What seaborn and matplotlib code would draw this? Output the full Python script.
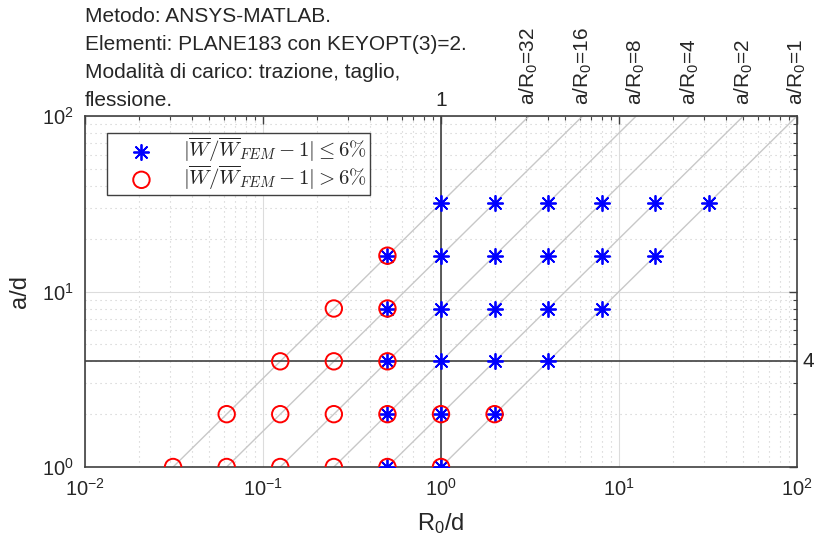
import numpy as np
import pandas as pd
import matplotlib
matplotlib.use("Agg")
import matplotlib.pyplot as plt
import seaborn as sns
from matplotlib.font_manager import FontProperties
from matplotlib.ticker import LogLocator, FixedLocator, NullFormatter

sns.set_style("white")
plt.rcParams['font.family'] = ['Liberation Sans', 'DejaVu Sans']
plt.rcParams['mathtext.fontset'] = 'custom'
plt.rcParams['mathtext.rm'] = 'Liberation Sans'
plt.rcParams['mathtext.it'] = 'Liberation Sans:italic'
plt.rcParams['mathtext.bf'] = 'Liberation Sans:bold'

# ---- data ----
ok_x = [0.5, 1, 0.5, 1, 2, 0.5, 1, 2, 4, 0.5, 1, 2, 4, 8,
        0.5, 1, 2, 4, 8, 16, 1, 2, 4, 8, 16, 32]
ok_y = [1, 1, 2, 2, 2, 4, 4, 4, 4, 8, 8, 8, 8, 8,
        16, 16, 16, 16, 16, 16, 32, 32, 32, 32, 32, 32]
ko_x = [1/32, 1/16, 1/8, 1/4, 1/2, 1,
        1/16, 1/8, 1/4, 1/2, 1, 2,
        1/8, 1/4, 1/2,
        1/4, 1/2,
        1/2]
ko_y = [1, 1, 1, 1, 1, 1,
        2, 2, 2, 2, 2, 2,
        4, 4, 4,
        8, 8,
        16]
ratios = [32, 16, 8, 4, 2, 1]
ratio_labels = ["a/R$_\\mathregular{0}$=32", "a/R$_\\mathregular{0}$=16",
                "a/R$_\\mathregular{0}$=8", "a/R$_\\mathregular{0}$=4",
                "a/R$_\\mathregular{0}$=2", "a/R$_\\mathregular{0}$=1"]
x_ref = 1
y_ref = 4
title_lines = ["Metodo: ANSYS-MATLAB.",
               "Elementi: PLANE183 con KEYOPT(3)=2.",
               "Modalità di carico: trazione, taglio,",
               "flessione."]
xlim = (1e-2, 1e2)
ylim = (1e0, 1e2)

ok_df = pd.DataFrame({"x": ok_x, "y": ok_y})
ko_df = pd.DataFrame({"x": ko_x, "y": ko_y})

fig = plt.figure(figsize=(8.14, 5.52), dpi=100)
ax = fig.add_axes([85/814, 1-467/552, 712/814, 351/552])
ax.set_xscale('log')
ax.set_yscale('log')
ax.set_xlim(*xlim)
ax.set_ylim(*ylim)

# grid
ax.grid(True, which='major', color='#dcdcdc', lw=0.8, ls='-', zorder=0)
ax.grid(True, which='minor', color='#cccccc', lw=0.8, ls=(0, (1, 3.5)), zorder=0)
ax.set_axisbelow(True)

# diagonal lines
for k in ratios:
    xs = np.array([1.0/k, 100.0/k])
    sns.lineplot(x=xs, y=k*xs, ax=ax, color='#c8c8c8', lw=1.0, zorder=1,
                 estimator=None, sort=False)

ax.axvline(x_ref, color='#404040', lw=1.2, zorder=2)
ax.axhline(y_ref, color='#404040', lw=1.2, zorder=2)

sns.scatterplot(data=ok_df, x="x", y="y", ax=ax, marker=(8, 2, 0), s=120,
                color='blue', linewidth=1.3, zorder=3,
                label=r'$|\overline{W}/\overline{W}_{FEM}-1| \leq 6\%$')
sns.scatterplot(data=ko_df, x="x", y="y", ax=ax, marker='o', s=140,
                facecolor='none', edgecolor='red', linewidth=1.4, zorder=4,
                label=r'$|\overline{W}/\overline{W}_{FEM}-1| > 6\%$')

# ticks
ax.xaxis.set_major_locator(FixedLocator([1e-2, 1e-1, 1e0, 1e1, 1e2]))
ax.set_xticklabels([r'$\mathregular{10^{-2}}$', r'$\mathregular{10^{-1}}$',
                    r'$\mathregular{10^{0}}$', r'$\mathregular{10^{1}}$',
                    r'$\mathregular{10^{2}}$'])
ax.yaxis.set_major_locator(FixedLocator([1e0, 1e1, 1e2]))
ax.set_yticklabels([r'$\mathregular{10^{0}}$', r'$\mathregular{10^{1}}$',
                    r'$\mathregular{10^{2}}$'])
ax.xaxis.set_minor_locator(LogLocator(base=10, subs=np.arange(2, 10)))
ax.yaxis.set_minor_locator(LogLocator(base=10, subs=np.arange(2, 10)))
ax.xaxis.set_minor_formatter(NullFormatter())
ax.yaxis.set_minor_formatter(NullFormatter())
ax.tick_params(which='both', direction='in', top=True, right=True,
               color='#404040', labelsize=14.5, labelcolor='#262626')
ax.tick_params(which='major', length=6, width=1, pad=8)
ax.tick_params(which='minor', length=3, width=0.8)
for sp in ax.spines.values():
    sp.set_color('#404040')
    sp.set_linewidth(1.2)
    sp.set_visible(True)

ax.set_xlabel(r'R$_\mathregular{0}$/d', fontsize=17, color='#262626', labelpad=8)
ax.set_ylabel('a/d', fontsize=17, color='#262626', labelpad=8)

# legend
leg = ax.legend(loc='upper left', bbox_to_anchor=(0.031, 0.952), borderaxespad=0,
                prop=FontProperties(size=15, math_fontfamily='cm'),
                frameon=True, fancybox=False, framealpha=1, edgecolor='#404040',
                handletextpad=0.5, borderpad=0.15, labelspacing=0.0,
                handlelength=3.0)
leg.get_frame().set_linewidth(1.0)

# ratio labels above the axes
for k, lab in zip(ratios, ratio_labels):
    ax.text(100.0/k, 115, lab, rotation=90, ha='center', va='bottom',
            fontsize=15, color='#262626', clip_on=False)

ax.text(x_ref, 108, '1', ha='center', va='bottom', fontsize=15, color='#262626', clip_on=False)
ax.text(1.08e2, y_ref, '4', ha='left', va='center', fontsize=15, color='#262626', clip_on=False)

# title lines
baselines = [22, 50, 78, 106]
for line, b in zip(title_lines, baselines):
    fig.text(85/814, 1 - b/552, line, ha='left', va='baseline', fontsize=15,
             color='#262626')

fig.savefig("out.png", dpi=100)
